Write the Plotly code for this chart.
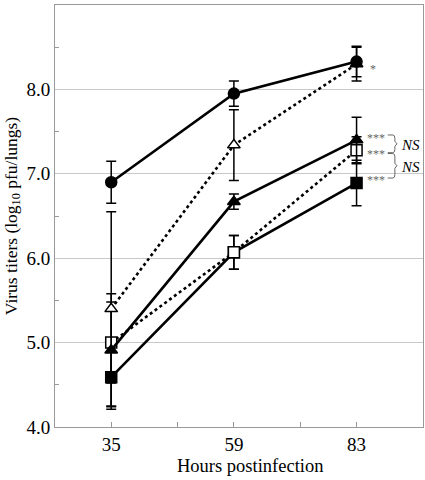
import plotly.graph_objects as go

hours = [35, 59, 83]

circle_vals = [6.90, 7.95, 8.33]
circle_err = [0.25, 0.15, 0.18]
open_tri_vals = [5.40, 7.34, 8.30]
open_tri_err = [1.15, 0.42, 0.20]
tri_vals = [4.91, 6.67, 7.40]
tri_err = [0.67, 0.09, 0.27]
open_sq_vals = [5.00, 6.07, 7.28]
open_sq_err = [0.48, 0.20, 0.16]
sq_vals = [4.59, 6.07, 6.89]
sq_err = [0.38, 0.20, 0.27]

x_tickvals = [35, 48, 59, 72, 83]
x_ticktext = ["35", " ", "59", " ", "83"]
y_tickvals = [4, 5, 6, 7, 8, 9]
y_ticktext = ["4.0", "5.0", "6.0", "7.0", "8.0", "9.0"]

fig = go.Figure()

def add(vals, err, symbol, fill, dash):
    fig.add_trace(go.Scatter(
        x=hours, y=vals, mode="lines+markers",
        line=dict(color="black", width=2.6, dash=dash),
        marker=dict(symbol=symbol, size=11, color=fill,
                    line=dict(color="black", width=1.5)),
        error_y=dict(type="data", array=err, visible=True,
                     color="black", thickness=1.5, width=5),
        showlegend=False, cliponaxis=False))

add(sq_vals, sq_err, "square", "black", "solid")
add(open_sq_vals, open_sq_err, "square", "white", "dot")
add(tri_vals, tri_err, "triangle-up", "black", "solid")
add(open_tri_vals, open_tri_err, "triangle-up", "white", "dot")
add(circle_vals, circle_err, "circle", "black", "solid")

star_font = dict(family="Liberation Serif", size=12, color="#666666")
fig.add_annotation(x=85.3, y=8.24, text="*", showarrow=False, font=star_font, xanchor="left")
for yv in [7.43, 7.23, 6.93]:
    fig.add_annotation(x=84.7, y=yv, text="***", showarrow=False, font=star_font, xanchor="left")

# brackets
def bracket(y0, y1):
    ym = (y0 + y1) / 2
    x0, x1 = 89.1, 90.5
    fig.add_shape(type="path",
                  path=f"M {x0},{y0} L {x1 - 0.4},{y0} Q {x1},{y0} {x1},{y0 - 0.04} "
                       f"L {x1},{ym + 0.03} L {x1 + 0.4},{ym} L {x1},{ym - 0.03} "
                       f"L {x1},{y1 + 0.04} Q {x1},{y1} {x1 - 0.4},{y1} L {x0},{y1}",
                  line=dict(color="#666666", width=1), xref="x", yref="y")

bracket(7.46, 7.25)
bracket(7.24, 6.95)
ns_font = dict(family="Liberation Serif", size=15, color="black")
fig.add_annotation(x=91.3, y=7.34, text="<i>NS</i>", showarrow=False, font=ns_font, xanchor="left")
fig.add_annotation(x=91.3, y=7.08, text="<i>NS</i>", showarrow=False, font=ns_font, xanchor="left")

# x-axis title (slightly right of centre, as in the original)
fig.add_annotation(x=0.53, y=0, xref="paper", yref="paper", yshift=-27, yanchor="top",
                   text="Hours postinfection", showarrow=False,
                   font=dict(family="Liberation Serif", size=18.5, color="black"))

fig.update_layout(
    width=425, height=480,
    margin=dict(l=55, r=2, t=5, b=53),
    paper_bgcolor="white", plot_bgcolor="white",
    font=dict(family="Liberation Serif", size=19, color="black"),
    xaxis=dict(range=[24, 96], tickvals=x_tickvals, ticktext=x_ticktext,
               ticks="inside", ticklen=5, tickcolor="#999",
               showgrid=False, zeroline=False, showline=True, automargin=False,
               linecolor="#999", linewidth=1, mirror=True,
               tickfont=dict(size=19)),
    yaxis=dict(range=[4, 9], tickvals=y_tickvals, ticktext=y_ticktext,
               ticks="", showgrid=True, gridcolor="#c8c8c8", gridwidth=1, automargin=False,
               zeroline=False, showline=True, linecolor="#999", linewidth=1, mirror=True,
               minor=dict(tickvals=[4.5, 5.5, 6.5, 7.5, 8.5], ticks="inside",
                          ticklen=4, tickcolor="#999", showgrid=False),
               title=dict(text="Virus titers (log<sub>10</sub> pfu/lungs)", font=dict(size=17.5), standoff=4),
               tickfont=dict(size=19)),
)

fig.write_html("out.html", config={"displayModeBar": False},
               post_script="document.body.style.margin='0';document.body.style.overflow='hidden';")
